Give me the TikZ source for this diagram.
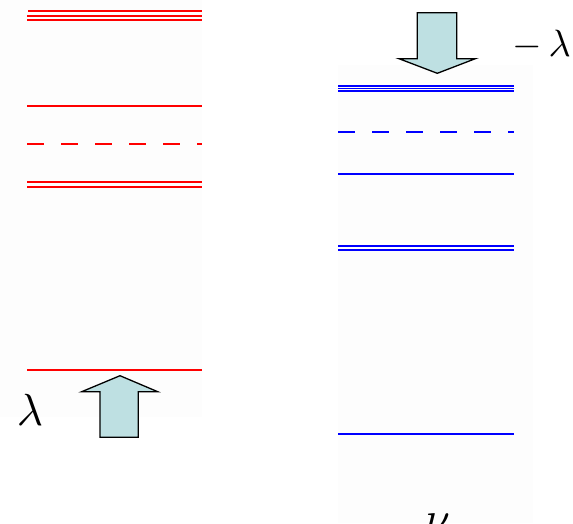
\documentclass[tikz,border=0pt]{standalone}
\usepackage{tikz}
\definecolor{arrowfill}{RGB}{190,224,226}
\definecolor{panel}{RGB}{253,253,253}
\tikzset{
  redlvl/.style={draw=red, line width=1.8pt},
  bluelvl/.style={draw=blue, line width=1.8pt},
  redstripe/.style={fill=red},
  bluestripe/.style={fill=blue},
  gapstripe/.style={fill=panel},
  dashlvl/.style={dash pattern=on 17pt off 17pt},
  fatarrow/.style={draw=black, line width=1.3pt, fill=arrowfill, line join=miter},
  lbl/.style={inner sep=0pt, text=black}
}
\begin{document}
\begin{tikzpicture}[x=1pt, y=-1pt]
\useasboundingbox (0,0) rectangle (573,523);
% faint panels
\fill[panel] (0,0) rectangle (202,417);
\fill[panel] (338,65) rectangle (533,523);
% red levels
\fill[redstripe] (28,10) rectangle (202,12);
\fill[redstripe] (27,14.5) rectangle (202,16.5);
\fill[redstripe] (27,18.5) rectangle (202,20.5);
\draw[redlvl] (27,106) -- (202,106);
\draw[redlvl, dashlvl] (27,144) -- (202,144);
\fill[redstripe] (27,181) rectangle (202,183);
\fill[redstripe] (27,186) rectangle (202,188);
\draw[redlvl] (27,370) -- (202,370);
% blue levels
\fill[bluestripe] (338,84.8) rectangle (514,92);
\fill[gapstripe] (338,86.5) rectangle (514,87.5);
\fill[gapstripe] (338,89.3) rectangle (514,90.3);
\draw[bluelvl, dashlvl] (338,131.7) -- (514,131.7);
\draw[bluelvl] (338,174) -- (514,174);
\fill[bluestripe] (338,244.5) rectangle (514,250.5);
\fill[gapstripe] (338,246.5) rectangle (514,248.5);
\draw[bluelvl] (338,434) -- (514,434);
% up arrow
\draw[fatarrow] (100,437.3) -- (100,391.7) -- (81.7,391.7) -- (120,375.7) -- (157.7,391.7) -- (138.3,391.7) -- (138.3,437.3) -- cycle;
% down arrow
\draw[fatarrow] (417.3,12.7) -- (417.3,58.7) -- (399,58.7) -- (437.3,73.3) -- (475.3,58.7) -- (456.7,58.7) -- (456.7,12.7) -- cycle;
% labels
\node[lbl, anchor=base west, scale=4.5] (lam) at (16,425) {$\lambda$};
\node[lbl, anchor=base west, scale=3.8] (mlam) at (512,56) {$-\,\lambda$};
\node[lbl, anchor=base west, scale=4.5] (nu) at (424,533) {$\nu$};
\end{tikzpicture}
\end{document}
